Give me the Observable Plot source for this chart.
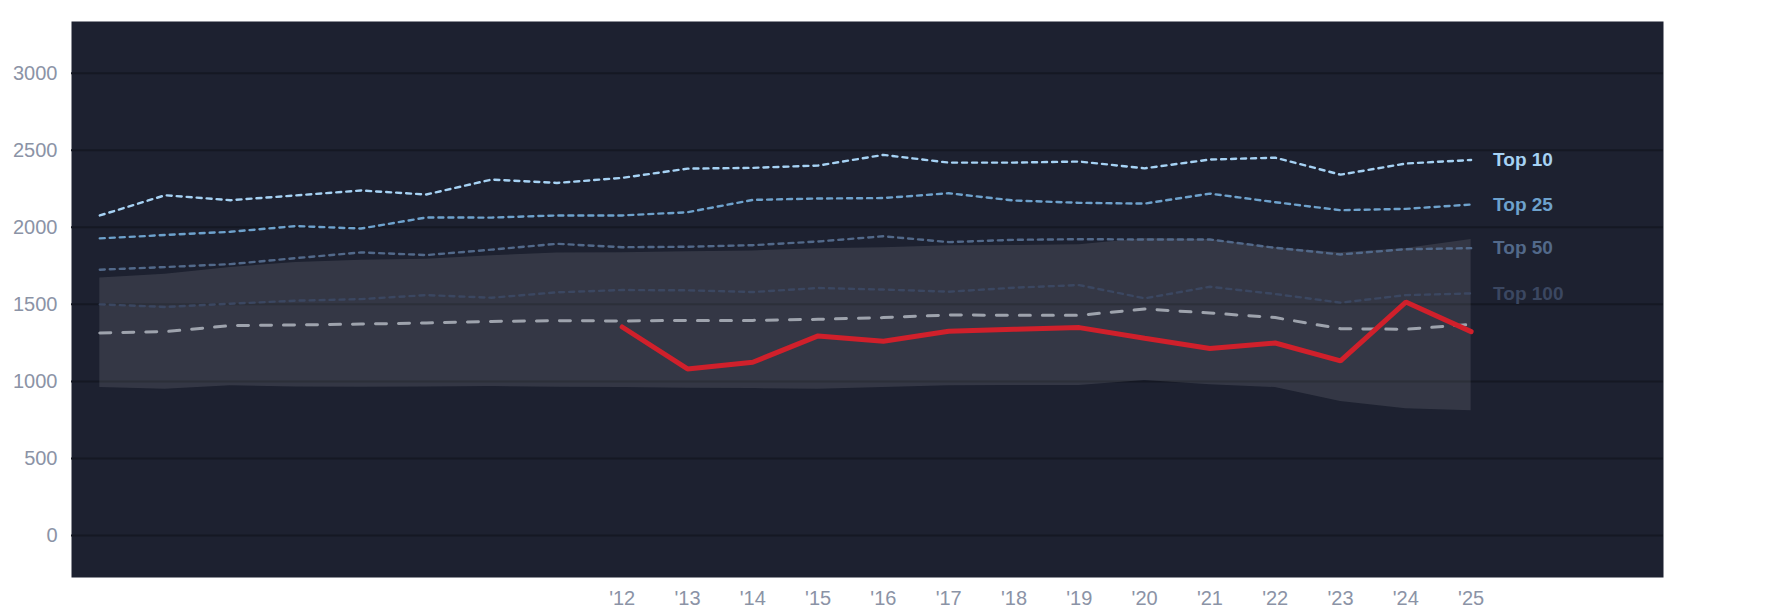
<!DOCTYPE html>
<html>
<head>
<meta charset="utf-8">
<script src="https://cdn.jsdelivr.net/npm/d3@7"></script>
<script src="https://cdn.jsdelivr.net/npm/@observablehq/plot@0.6"></script>
<style>
  html, body { margin: 0; padding: 0; background: #ffffff; }
  #chart svg { display: block; }
</style>
</head>
<body>
<div id="chart"></div>
<script>
// ---- data ----
const years = [2004, 2005, 2006, 2007, 2008, 2009, 2010, 2011, 2012, 2013, 2014,
               2015, 2016, 2017, 2018, 2019, 2020, 2021, 2022, 2023, 2024, 2025];
const top10  = [2077, 2208, 2176, 2207, 2239, 2213, 2310, 2288, 2321, 2381, 2386,
                2401, 2470, 2420, 2420, 2427, 2383, 2440, 2452, 2342, 2414, 2437];
const top25  = [1928, 1950, 1971, 2008, 1992, 2064, 2063, 2077, 2077, 2098, 2178,
                2187, 2190, 2221, 2174, 2159, 2154, 2219, 2163, 2111, 2120, 2148];
const top50  = [1725, 1742, 1761, 1800, 1837, 1820, 1855, 1893, 1871, 1874, 1884,
                1908, 1942, 1904, 1919, 1923, 1921, 1921, 1867, 1824, 1858, 1865];
const top100 = [1500, 1483, 1504, 1524, 1534, 1560, 1543, 1578, 1593, 1591, 1580,
                1606, 1596, 1582, 1608, 1625, 1539, 1614, 1567, 1511, 1560, 1571];
const median = [1314, 1323, 1362, 1366, 1372, 1379, 1389, 1394, 1392, 1396, 1396,
                1403, 1414, 1431, 1429, 1429, 1470, 1444, 1414, 1342, 1338, 1370];
const bandHigh = [1671, 1696, 1740, 1772, 1787, 1792, 1816, 1833, 1835, 1841, 1847,
                  1861, 1868, 1880, 1882, 1887, 1927, 1921, 1868, 1835, 1862, 1921];
const bandLow  = [960, 949, 971, 964, 962, 964, 966, 962, 960, 955, 953,
                  949, 960, 971, 973, 973, 1006, 978, 960, 869, 823, 810];
const teamYears = [2012, 2013, 2014, 2015, 2016, 2017, 2018, 2019, 2020, 2021, 2022, 2023, 2024, 2025];
const team      = [1353, 1081, 1124, 1295, 1260, 1325, 1338, 1349, 1280, 1213, 1249, 1133, 1515, 1323];

const tierNames  = ["Top 10", "Top 25", "Top 50", "Top 100"];
const tierColors = ["#a6d2f4", "#6ea2cd", "#52698a", "#3b4761"];
const yTicks = [0, 500, 1000, 1500, 2000, 2500, 3000];
const xTicks = teamYears;

// ---- tables built from the arrays ----
const tierValues = [top10, top25, top50, top100];
const bandRows = years.map((yr, i) => ({year: yr, lo: bandLow[i], hi: bandHigh[i], median: median[i]}));
const tierRows = tierNames.flatMap((name, k) => years.map((yr, i) => ({tier: name, year: yr, value: tierValues[k][i]})));
const teamRows = teamYears.map((yr, i) => ({year: yr, value: team[i]}));
const last = years.length - 1;
const labelRows = tierNames.map((name, k) => ({tier: name, year: years[last], value: tierValues[k][last]}));

const chart = Plot.plot({
  width: 1785,
  height: 614,
  marginLeft: 71,
  marginRight: 122,
  marginTop: 21,
  marginBottom: 37,
  style: {
    fontFamily: "'Liberation Sans', Arial, Helvetica, sans-serif",
    fontSize: "20px",
    color: "#8b93a6",
    background: "#ffffff",
    overflow: "visible"
  },
  x: { domain: [2003.567, 2027.946], label: null },
  y: { domain: [-273, 3336], label: null },
  color: { domain: tierNames, range: tierColors },
  marks: [
    Plot.frame({fill: "#1d2130", stroke: null}),
    Plot.gridY(yTicks, {stroke: "#151823", strokeOpacity: 1, strokeWidth: 2}),
    Plot.areaY(bandRows, {x: "year", y1: "lo", y2: "hi", fill: "#ffffff", fillOpacity: 0.1}),
    Plot.lineY(tierRows, {x: "year", y: "value", z: "tier", stroke: "tier", strokeWidth: 2.4, strokeDasharray: "5 5"}),
    Plot.lineY(bandRows, {x: "year", y: "median", stroke: "#9ea3ad", strokeWidth: 3, strokeDasharray: "11 12"}),
    Plot.lineY(teamRows, {x: "year", y: "value", stroke: "#d0202b", strokeWidth: 5, strokeLinejoin: "miter"}),
    Plot.text(labelRows, {x: "year", y: "value", text: "tier", fill: "tier", dx: 22, textAnchor: "start", fontWeight: "bold", fontSize: 19}),
    Plot.axisY(yTicks, {tickSize: 0, tickPadding: 14, fontSize: 20, fill: "#8b93a6", tickFormat: d => String(d), label: null}),
    Plot.axisX(xTicks, {tickSize: 0, tickPadding: 13, fontSize: 20, fill: "#8b93a6", tickFormat: d => "'" + String(d).slice(2), label: null})
  ]
});
document.getElementById("chart").appendChild(chart);
</script>
</body>
</html>
